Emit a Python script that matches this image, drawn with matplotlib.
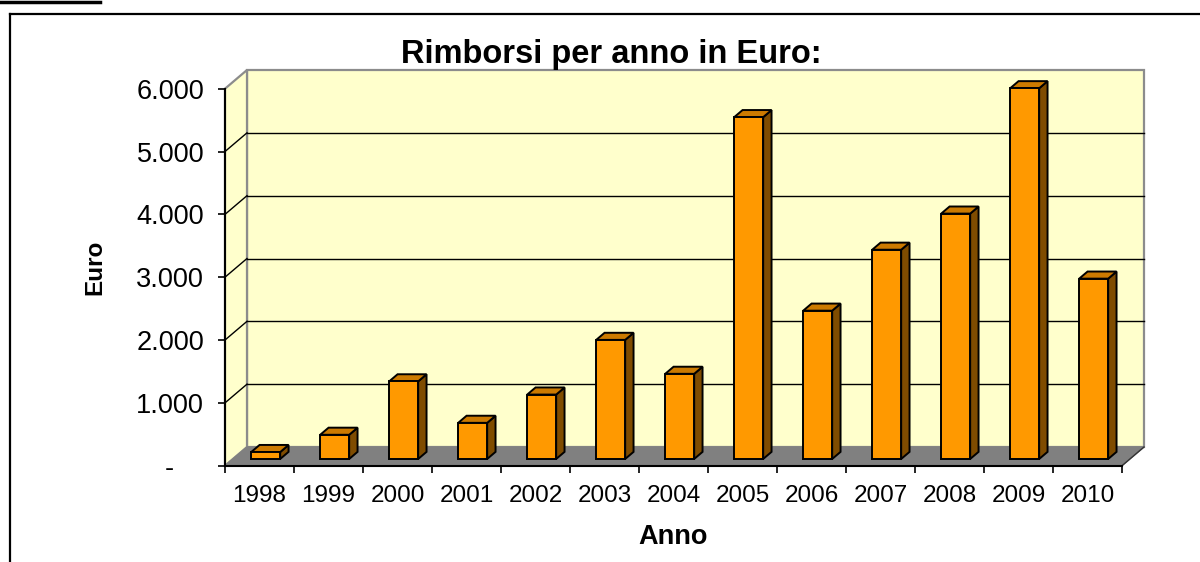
import matplotlib
matplotlib.use("Agg")
import matplotlib.pyplot as plt
from matplotlib.patches import Polygon
from matplotlib.lines import Line2D
from matplotlib.ticker import FuncFormatter, MultipleLocator, FixedLocator

plt.rcParams['font.family'] = ['Liberation Sans', 'DejaVu Sans']

# ---- data ----
years = ['1998', '1999', '2000', '2001', '2002', '2003', '2004',
         '2005', '2006', '2007', '2008', '2009', '2010']
rimborsi = [110, 385, 1235, 575, 1025, 1895, 1355,
            5440, 2360, 3330, 3905, 5900, 2870]
title = 'Rimborsi per anno in Euro:'
xlabel = 'Anno'
ylabel = 'Euro'
ymax = 6000
ystep = 1000

# ---- style ----
W, H = 1200, 562
FRONT = '#FF9900'
TOP = '#CC7A00'
SIDE = '#7F4C00'
WALL = '#FFFFCC'
FLOOR = '#808080'
EDGE_GRAY = '#8C8C8C'

fig = plt.figure(figsize=(W / 100, H / 100), dpi=100)
ax_left, ax_right = 225, 1122
ax_top, ax_bot = 88.7, 465.7
ax = fig.add_axes([ax_left / W, 1 - ax_bot / H,
                   (ax_right - ax_left) / W, (ax_bot - ax_top) / H])
n = len(years)
ax.set_xlim(0, n)
ax.set_ylim(0, ymax)
ax.patch.set_visible(False)

# depth projection (oblique): one unit of depth -> (DX categories, DY value units)
px_per_cat = (ax_right - ax_left) / n
px_per_val = (ax_bot - ax_top) / ymax
DX = 22 / px_per_cat
DY = 18.7 / px_per_val

def P(x, y, d):
    return (x + d * DX, y + d * DY)

# back wall
ax.add_patch(Polygon([P(0, 0, 1), P(n, 0, 1), P(n, ymax, 1), P(0, ymax, 1)],
                     closed=True, facecolor=WALL, edgecolor=EDGE_GRAY, lw=1.6,
                     clip_on=False, zorder=1))
# side wall
ax.add_patch(Polygon([P(0, 0, 0), P(0, 0, 1), P(0, ymax, 1), P(0, ymax, 0)],
                     closed=True, facecolor=WALL, edgecolor=EDGE_GRAY, lw=1.6,
                     clip_on=False, zorder=1))
# floor
ax.add_patch(Polygon([P(0, 0, 0), P(n, 0, 0), P(n, 0, 1), P(0, 0, 1)],
                     closed=True, facecolor=FLOOR, edgecolor=FLOOR, lw=1.0,
                     clip_on=False, zorder=2))
# floor right edge
xs, ys = zip(P(n, 0, 0), P(n, 0, 1))
ax.add_line(Line2D(xs, ys, color='#333333', lw=1.0, clip_on=False, zorder=3))

# gridlines
for v in range(ystep, ymax, ystep):
    xs, ys = zip(P(0, v, 1), P(n, v, 1))
    ax.add_line(Line2D(xs, ys, color='black', lw=1.0, clip_on=False, zorder=2))
    xs, ys = zip(P(0, v, 0), P(0, v, 1))
    ax.add_line(Line2D(xs, ys, color='black', lw=1.0, clip_on=False, zorder=2))

# bars
d0, dd = 0.36, 0.38
bar_left, bar_w = 0.265, 0.42
for i, v in enumerate(rimborsi):
    x0 = i + bar_left
    x1 = x0 + bar_w
    front = [P(x0, 0, d0), P(x1, 0, d0), P(x1, v, d0), P(x0, v, d0)]
    side = [P(x1, 0, d0), P(x1, 0, d0 + dd), P(x1, v, d0 + dd), P(x1, v, d0)]
    top = [P(x0, v, d0), P(x1, v, d0), P(x1, v, d0 + dd), P(x0, v, d0 + dd)]
    for poly, col in ((side, SIDE), (top, TOP), (front, FRONT)):
        ax.add_patch(Polygon(poly, closed=True, facecolor=col, edgecolor='black',
                             lw=1.4, joinstyle='miter', clip_on=False, zorder=5))

# axes / spines
for s in ('top', 'right'):
    ax.spines[s].set_visible(False)
ax.spines['left'].set_linewidth(1.5)
ax.spines['bottom'].set_linewidth(1.5)
ax.spines['left'].set_zorder(6)
ax.spines['bottom'].set_zorder(6)

ax.yaxis.set_major_locator(MultipleLocator(ystep))
ax.yaxis.set_major_formatter(FuncFormatter(
    lambda v, p: '-\u2007\u2007' if v == 0 else f'{int(v):,}'.replace(',', '.')))
ax.tick_params(axis='y', direction='out', length=5, width=1.2, pad=10,
               labelsize=19.5, colors='black')

ax.xaxis.set_major_locator(FixedLocator(range(n + 1)))
ax.xaxis.set_major_formatter(FuncFormatter(lambda v, p: ''))
ax.xaxis.set_minor_locator(FixedLocator([i + 0.5 for i in range(n)]))
ax.set_xticklabels(years, minor=True)
ax.tick_params(axis='x', which='major', direction='out', length=5, width=1.2)
ax.tick_params(axis='x', which='minor', length=0, pad=14, labelsize=17.5)

# texts
fig.text(611.7 / W, 1 - 54 / H, title, ha='center', va='center',
         fontsize=23.5, fontweight='bold')
fig.text(95 / W, 1 - 267 / H, ylabel, ha='center', va='center', rotation=90,
         fontsize=17.5, fontweight='bold')
fig.text(673 / W, 1 - 537 / H, xlabel, ha='center', va='center',
         fontsize=19.5, fontweight='bold')

# outer frame
fig.add_artist(Line2D([9.5 / W, 9.5 / W], [1 - 14 / H, 0], color='black',
                      lw=1.6, transform=fig.transFigure))
fig.add_artist(Line2D([9.5 / W, 1.0], [1 - 14 / H, 1 - 14 / H], color='black',
                      lw=1.6, transform=fig.transFigure))
fig.add_artist(Line2D([0, 100 / W], [1 - 2 / H, 1 - 2 / H], color='black',
                      lw=2.5, transform=fig.transFigure))

fig.savefig('out.png', dpi=100)
